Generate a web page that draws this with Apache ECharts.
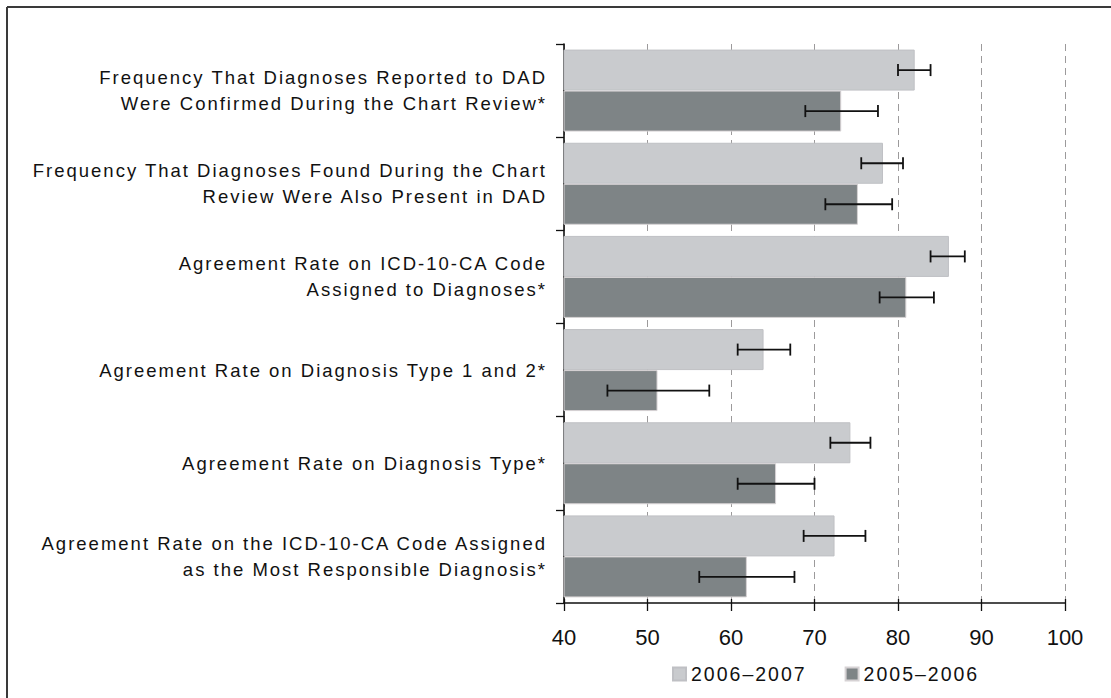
<!DOCTYPE html>
<html>
<head>
<meta charset="utf-8">
<script src="https://cdn.jsdelivr.net/npm/echarts@6/dist/echarts.min.js"></script>
<style>
  html, body { margin: 0; padding: 0; background: #ffffff; }
  #chart { width: 1111px; height: 698px; }
  /* wide tracking for the category captions and the legend */
  #chart text[style*="18.5px"], #chart text[style*="19.5px"] { letter-spacing: 2px; }
</style>
</head>
<body>
<div id="chart"></div>
<script>
// Measures, top to bottom
const categories = [
  'Frequency That Diagnoses Reported to DAD\nWere Confirmed During the Chart Review*',
  'Frequency That Diagnoses Found During the Chart\nReview Were Also Present in DAD',
  'Agreement Rate on ICD-10-CA Code\nAssigned to Diagnoses*',
  'Agreement Rate on Diagnosis Type 1 and 2*',
  'Agreement Rate on Diagnosis Type*',
  'Agreement Rate on the ICD-10-CA Code Assigned\nas the Most Responsible Diagnosis*'
];

// Period names
const periodRecent = '2006–2007';
const periodEarlier = '2005–2006';

// Rates (%) and 95% confidence limits
const recentRate = [82.0, 78.2, 86.1, 63.9, 74.3, 72.4];
const recentLow  = [80.0, 75.6, 83.9, 60.8, 71.9, 68.7];
const recentHigh = [83.9, 80.6, 88.0, 67.1, 76.7, 76.1];

const earlierRate = [73.2, 75.2, 81.0, 51.2, 65.4, 61.9];
const earlierLow  = [68.9, 71.3, 77.8, 45.2, 60.8, 56.2];
const earlierHigh = [77.6, 79.3, 84.3, 57.4, 70.0, 67.6];

// Value axis
const axisMin = 40;
const axisMax = 100;
const axisStep = 10;

const BAR_W = 41;
const INK = '#111111';

function intervals(low, high) {
  return low.map((lo, i) => [lo, high[i], i]);
}

// Whisker with end caps, shifted to the centre of its bar within the band
function errorBar(shift) {
  return function (params, api) {
    const a = api.coord([api.value(0), api.value(2)]);
    const b = api.coord([api.value(1), api.value(2)]);
    const y = a[1] + shift;
    const cap = 6;
    const st = { stroke: INK, lineWidth: 1.8 };
    return {
      type: 'group',
      children: [
        { type: 'line', shape: { x1: a[0], y1: y, x2: b[0], y2: y }, style: st },
        { type: 'line', shape: { x1: a[0], y1: y - cap, x2: a[0], y2: y + cap }, style: st },
        { type: 'line', shape: { x1: b[0], y1: y - cap, x2: b[0], y2: y + cap }, style: st }
      ]
    };
  };
}

const chart = echarts.init(document.getElementById('chart'), null, { renderer: 'svg' });

chart.setOption({
  animation: false,
  backgroundColor: '#ffffff',
  graphic: [
    { type: 'line', shape: { x1: 7, y1: 7, x2: 1111, y2: 7 }, style: { stroke: '#3a3a3a', lineWidth: 2 } },
    { type: 'line', shape: { x1: 7, y1: 7, x2: 7, y2: 698 }, style: { stroke: '#3a3a3a', lineWidth: 2 } }
  ],
  grid: { left: 564, right: 46, top: 44, bottom: 95 },
  legend: {
    data: [periodRecent, periodEarlier],
    left: 672,
    top: 664,
    padding: 0,
    icon: 'rect',
    itemWidth: 13,
    itemHeight: 13,
    itemGap: 56,
    textStyle: { fontFamily: 'Liberation Sans', fontSize: 19.5, color: INK }
  },
  xAxis: [
    {
      type: 'value',
      position: 'bottom',
      min: axisMin,
      max: axisMax,
      interval: axisStep,
      axisLine: { show: true, lineStyle: { color: INK, width: 1.6 } },
      axisTick: { show: true, length: 8, lineStyle: { color: INK, width: 1.3 } },
      axisLabel: { fontFamily: 'Arial', fontSize: 22, color: INK, margin: 23 },
      splitLine: { show: true, lineStyle: { color: '#9c9a9b', width: 1, type: [7, 5] } }
    },
    {
      type: 'value',
      position: 'bottom',
      min: axisMin,
      max: axisMax,
      interval: axisStep,
      axisLine: { show: false },
      axisTick: { show: true, inside: true, length: 4, lineStyle: { color: INK, width: 1.3 } },
      axisLabel: { show: false },
      splitLine: { show: false }
    }
  ],
  yAxis: {
    type: 'category',
    inverse: true,
    data: categories,
    axisLine: { show: true, lineStyle: { color: INK, width: 1.6 } },
    axisTick: { show: true, length: 8, lineStyle: { color: INK, width: 1.3 } },
    axisLabel: {
      fontFamily: 'Liberation Sans',
      fontSize: 18.5,
      lineHeight: 26,
      color: INK,
      align: 'right',
      margin: 17
    }
  },
  series: [
    {
      name: periodRecent,
      type: 'bar',
      data: recentRate,
      barWidth: BAR_W,
      barGap: '0%',
      itemStyle: { color: '#c9cbce', borderColor: '#bfc0c4', borderWidth: 1 }
    },
    {
      name: periodEarlier,
      type: 'bar',
      data: earlierRate,
      barWidth: BAR_W,
      barGap: '0%',
      itemStyle: { color: '#7e8486', borderColor: '#d6d2d4', borderWidth: 1 }
    },
    {
      name: 'recentInterval',
      type: 'custom',
      renderItem: errorBar(-BAR_W / 2),
      encode: { x: [0, 1], y: 2 },
      data: intervals(recentLow, recentHigh),
      z: 5
    },
    {
      name: 'earlierInterval',
      type: 'custom',
      renderItem: errorBar(BAR_W / 2),
      encode: { x: [0, 1], y: 2 },
      data: intervals(earlierLow, earlierHigh),
      z: 5
    }
  ]
});
</script>
</body>
</html>
